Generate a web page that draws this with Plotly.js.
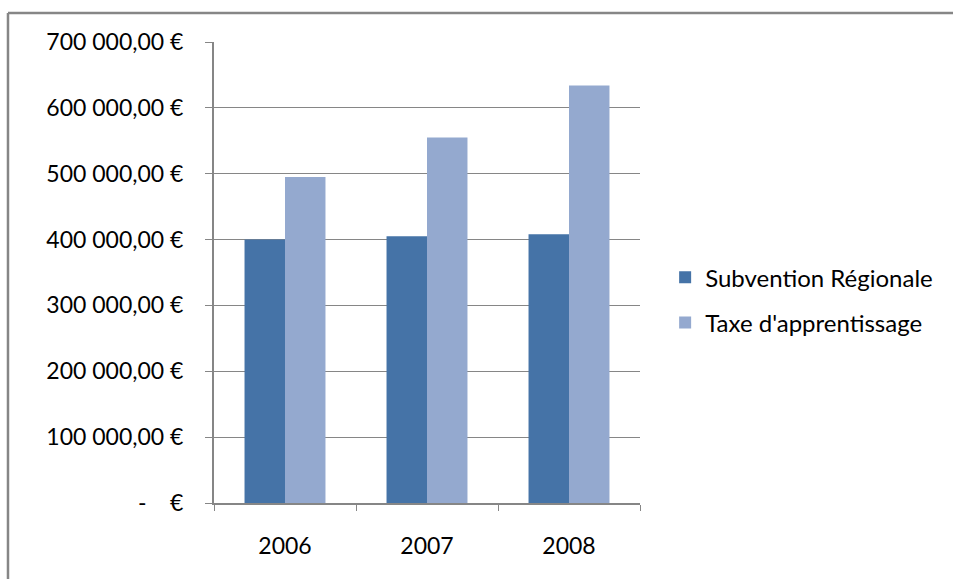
<!DOCTYPE html>
<html>
<head>
<meta charset="utf-8">
<script src="https://cdn.plot.ly/plotly-3.0.1.min.js"></script>
<style>html,body{margin:0;padding:0;background:#fff;}#chart{width:953px;height:579px;}</style>
</head>
<body>
<div id="chart"></div>
<script>
var years = ['2006', '2007', '2008'];
var subventionRegionale = [400000, 405000, 408000];
var taxeApprentissage = [495000, 555000, 634000];
var seriesNames = ['Subvention Régionale', "Taxe d'apprentissage"];
var yTickVals = [0, 100000, 200000, 300000, 400000, 500000, 600000, 700000];
var yTickText = ['-\u00a0\u00a0\u00a0\u00a0€', '100\u00a0000,00\u00a0€', '200\u00a0000,00\u00a0€', '300\u00a0000,00\u00a0€', '400\u00a0000,00\u00a0€', '500\u00a0000,00\u00a0€', '600\u00a0000,00\u00a0€', '700\u00a0000,00\u00a0€'];

var FONT = 'Lato, "Open Sans", sans-serif';
var GRAY = '#868686';

var data = [
  {type: 'bar', name: seriesNames[0], x: years, y: subventionRegionale, legendgroup: 'a',
   marker: {color: '#4573A7', line: {width: 0}}, hoverinfo: 'none'},
  {type: 'bar', name: seriesNames[1], x: years, y: taxeApprentissage, legendgroup: 'b',
   marker: {color: '#94A9CF', line: {width: 0}}, hoverinfo: 'none'}
];

var layout = {
  width: 953, height: 579,
  margin: {l: 214, r: 313, t: 42, b: 76, pad: 0},
  paper_bgcolor: '#ffffff', plot_bgcolor: '#ffffff',
  font: {family: FONT, size: 23, color: '#000000'},
  barmode: 'group', bargap: 0.43, bargroupgap: 0,
  showlegend: true,
  legend: {x: 1.059, xanchor: 'left', y: 0.44, yanchor: 'middle',
           font: {family: FONT, size: 24, color: '#000'}, bgcolor: 'rgba(0,0,0,0)',
           traceorder: 'grouped', tracegroupgap: 11, itemwidth: 30},
  xaxis: {type: 'category', showline: true, linecolor: GRAY, linewidth: 2,
          ticks: 'outside', tickson: 'boundaries', ticklen: 6, tickcolor: GRAY, tickwidth: 1,
          showgrid: false, zeroline: false, tickfont: {family: FONT, size: 23, color: '#000'},
          ticklabelstandoff: 21},
  yaxis: {range: [0, 700000], tickvals: yTickVals, ticktext: yTickText,
          showline: true, linecolor: GRAY, linewidth: 2,
          ticks: 'outside', ticklen: 7, tickcolor: GRAY, tickwidth: 1,
          showgrid: true, gridcolor: GRAY, gridwidth: 1, zeroline: false,
          tickfont: {family: FONT, size: 23, color: '#000'}, ticklabelstandoff: 17},
  shapes: [
    {type: 'line', xref: 'paper', yref: 'paper', x0: -0.4836, x1: 1.8, y0: 1.0629, y1: 1.0629,
     line: {color: GRAY, width: 2.5}},
    {type: 'line', xref: 'paper', yref: 'paper', x0: -0.4836, x1: -0.4836, y0: 1.0629, y1: -0.2,
     line: {color: GRAY, width: 2.5}}
  ]
};

Plotly.newPlot('chart', data, layout, {staticPlot: true, displayModeBar: false});
</script>
</body>
</html>
